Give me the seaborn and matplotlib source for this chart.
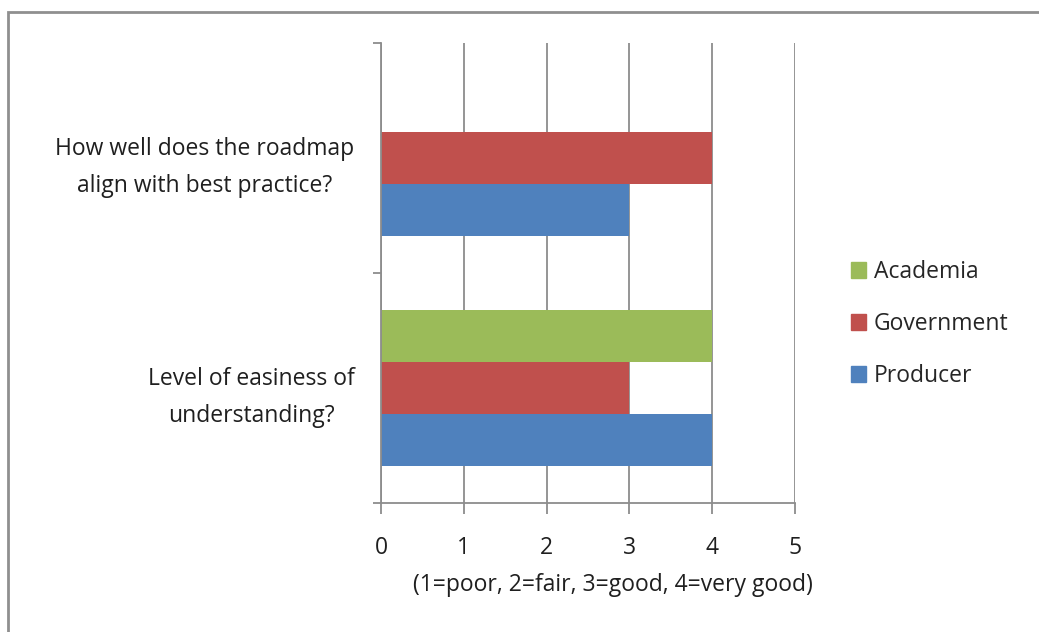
import matplotlib
matplotlib.use("Agg")
import matplotlib.pyplot as plt
import matplotlib.patches as mpatches
import numpy as np
import pandas as pd
import seaborn as sns

# Survey questions (top to bottom) and respondent groups
questions = [
    "How well does the roadmap\nalign with best practice?",
    "Level of easiness of\nunderstanding?",
]
groups = ["Academia", "Government", "Producer"]
academia = [np.nan, 4]
government = [4, 3]
producer = [3, 4]
x_ticks = [0, 1, 2, 3, 4, 5]
x_label = "(1=poor, 2=fair, 3=good, 4=very good)"

colors = {"Academia": "#9BBB59", "Government": "#C0504D", "Producer": "#4F81BD"}

rows = []
for name, vals in zip(groups, [academia, government, producer]):
    for q, v in zip(questions, vals):
        rows.append({"question": q, "group": name, "score": v})
df = pd.DataFrame(rows)

sns.set_theme(style="white")
plt.rcParams["font.family"] = ["Open Sans", "DejaVu Sans"]

FS = 16.5
TXT = "#1f1f1f"
W, H = 1039, 632
fig = plt.figure(figsize=(W / 100, H / 100), dpi=100)
ax = fig.add_axes([381 / W, 1 - 503 / H, (795 - 381) / W, (503 - 43) / H])

sns.barplot(
    data=df, y="question", x="score", hue="group", order=questions,
    hue_order=groups, palette=colors, orient="h", width=0.68,
    dodge=True, gap=0, saturation=1, ax=ax, legend=True, linewidth=0,
)

grid_col = "#8c8c8c"
ax.set_xlim(0, 5)
ax.set_ylim(1.5, -0.5)
ax.set_xticks(x_ticks)
ax.set_xticklabels([str(t) for t in x_ticks], fontsize=FS, color=TXT)
ax.xaxis.grid(True, color=grid_col, linewidth=1.3)
ax.set_axisbelow(True)
ax.tick_params(axis="x", which="major", direction="out", length=8, width=1.3,
               color=grid_col, pad=16, bottom=True)

# Category labels sit between the boundary tick marks
ax.set_yticks([0, 1])
ax.set_yticklabels(questions, fontsize=FS, color=TXT,
                   multialignment="center", linespacing=1.7)
ax.tick_params(axis="y", which="major", length=0, pad=19)
ax.set_yticks([-0.5, 0.5, 1.5], minor=True)
ax.tick_params(axis="y", which="minor", direction="out", length=6, width=1.3,
               color=grid_col, left=True)

for side in ["top", "right"]:
    ax.spines[side].set_visible(False)
for side in ["left", "bottom"]:
    ax.spines[side].set_color(grid_col)
    ax.spines[side].set_linewidth(1.3)

ax.set_xlabel("")
ax.set_ylabel("")
fig.text(613 / W, 1 - 585 / H, x_label, ha="center", va="center",
         fontsize=FS, color=TXT)

handles = [mpatches.Patch(color=colors[g], label=g) for g in groups]
ax.legend(handles=handles, loc="center left", bbox_to_anchor=(851 / W, 1 - 324 / H),
          bbox_transform=fig.transFigure, frameon=False, fontsize=FS,
          handlelength=0.65, handleheight=0.65, handletextpad=0.35,
          labelspacing=1.22, borderaxespad=0, borderpad=0)

# Outer chart frame
fig.patches.append(mpatches.Rectangle((8 / W, -0.05), 1.1, 1 - 12 / H + 0.05,
                                      transform=fig.transFigure, fill=False,
                                      edgecolor="#8f8f8f", linewidth=2))

fig.savefig("out.png", dpi=100)
